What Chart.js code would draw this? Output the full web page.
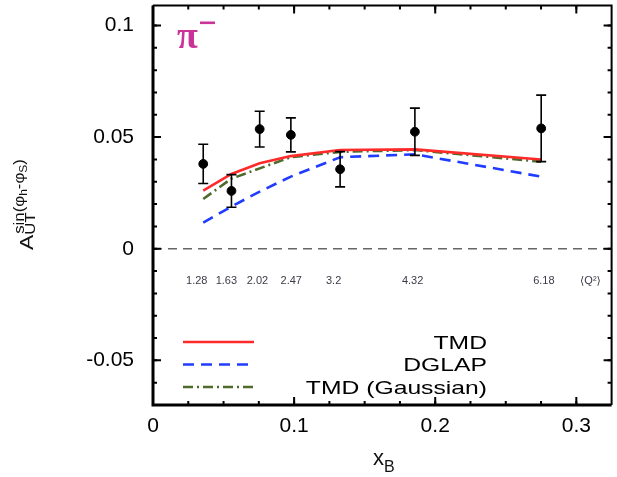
<!DOCTYPE html>
<html>
<head>
<meta charset="utf-8">
<script src="https://cdn.jsdelivr.net/npm/chart.js@4.4.1/dist/chart.umd.min.js"></script>
<style>
  html, body { margin: 0; padding: 0; background: #fff; }
</style>
</head>
<body>
<canvas id="asym-chart" width="617" height="477"></canvas>
<script>
//
// Sivers asymmetry, pi- : data
//
const xB      = [0.0356, 0.0556, 0.0756, 0.0977, 0.1326, 0.1856, 0.2751];
const asym    = [0.0380, 0.0259, 0.0536, 0.0510, 0.0356, 0.0524, 0.0539];
const asymErr = [0.0088, 0.0073, 0.0080, 0.0076, 0.0079, 0.0106, 0.0149];

const tmd      = [0.0260, 0.0335, 0.0383, 0.0415, 0.0442, 0.0445, 0.0400];
const dglap    = [0.0117, 0.0189, 0.0256, 0.0323, 0.0410, 0.0423, 0.0323];
const tmdGauss = [0.0223, 0.0314, 0.0360, 0.0410, 0.0434, 0.0442, 0.0390];

const zeroLineX = [0, 0.325];

const q2Labels = ['1.28', '1.63', '2.02', '2.47', '3.2', '4.32', '6.18', '\u27E8Q\u00B2\u27E9'];
const q2LabelX = [0.031, 0.052, 0.074, 0.098, 0.128, 0.184, 0.277, 0.310];
const q2LabelY = -0.0146;

const xTicks = [0, 0.1, 0.2, 0.3];
const yTicks = [-0.05, 0, 0.05, 0.1];
const xMinor = [];
for (let v = 0.025; v < 0.325; v += 0.025) xMinor.push(v);
const yMinor = [];
for (let v = -0.06; v < 0.105; v += 0.01) yMinor.push(v);

const legendNames = ['TMD', 'DGLAP', 'TMD (Gaussian)'];

const toXY = (ys) => ys.map((v, i) => ({ x: xB[i], y: v }));

const FONT = '"Liberation Sans", Arial, Helvetica, sans-serif';

function stretchText(ctx, text, x, y, sx, align) {
  ctx.save();
  ctx.translate(x, y);
  ctx.scale(sx, 1);
  ctx.textAlign = align;
  ctx.fillText(text, 0, 0);
  ctx.restore();
}

// error bars, Q^2 labels, frame with inward ticks, legend, axis titles
const decorations = {
  id: 'decorations',
  afterDatasetsDraw(chart) {
    const { ctx, scales: { x, y } } = chart;
    ctx.save();
    ctx.strokeStyle = '#000';
    ctx.lineWidth = 1.6;
    xB.forEach((v, i) => {
      const px = x.getPixelForValue(v);
      const top = y.getPixelForValue(asym[i] + asymErr[i]);
      const bot = y.getPixelForValue(asym[i] - asymErr[i]);
      ctx.beginPath();
      ctx.moveTo(px, top); ctx.lineTo(px, bot);
      ctx.moveTo(px - 5, top); ctx.lineTo(px + 5, top);
      ctx.moveTo(px - 5, bot); ctx.lineTo(px + 5, bot);
      ctx.stroke();
    });

    ctx.fillStyle = '#3a3a48';
    ctx.font = '11px ' + FONT + ', "DejaVu Sans"';
    ctx.textAlign = 'center';
    ctx.textBaseline = 'middle';
    q2Labels.forEach((t, i) => {
      ctx.fillText(t, x.getPixelForValue(q2LabelX[i]), y.getPixelForValue(q2LabelY));
    });
    ctx.restore();
  },
  afterDraw(chart) {
    const { ctx, chartArea: a, scales: { x, y } } = chart;
    ctx.save();
    ctx.strokeStyle = '#000';
    ctx.lineCap = 'butt';

    // ticks pointing inward
    const tick = (vals, len, lw) => {
      ctx.lineWidth = lw;
      ctx.beginPath();
      vals.forEach(v => {
        const px = x.getPixelForValue(v);
        ctx.moveTo(px, a.bottom); ctx.lineTo(px, a.bottom - len);
        ctx.moveTo(px, a.top); ctx.lineTo(px, a.top + len);
      });
      ctx.stroke();
    };
    const ytick = (vals, len, lw) => {
      ctx.lineWidth = lw;
      ctx.beginPath();
      vals.forEach(v => {
        const py = y.getPixelForValue(v);
        ctx.moveTo(a.left, py); ctx.lineTo(a.left + len, py);
        ctx.moveTo(a.right, py); ctx.lineTo(a.right - len, py);
      });
      ctx.stroke();
    };
    tick(xTicks, 8, 2);
    tick(xMinor, 4, 2);
    ytick(yTicks, 8, 2);
    ytick(yMinor, 4, 2);

    // frame
    ctx.lineWidth = 3;
    ctx.beginPath();
    ctx.moveTo(a.left, a.top); ctx.lineTo(a.left, a.bottom); ctx.lineTo(a.right, a.bottom);
    ctx.stroke();
    ctx.lineWidth = 2;
    ctx.beginPath();
    ctx.moveTo(a.left, a.top); ctx.lineTo(a.right, a.top); ctx.lineTo(a.right, a.bottom);
    ctx.stroke();

    // legend
    const ds = chart.data.datasets;
    const rows = [1, 2, 3];
    ctx.font = '19px ' + FONT;
    ctx.fillStyle = '#000';
    ctx.textBaseline = 'alphabetic';
    rows.forEach((di, r) => {
      const ly = 342 + r * 22.5;
      ctx.save();
      ctx.strokeStyle = ds[di].borderColor;
      ctx.lineWidth = ds[di].borderWidth;
      ctx.setLineDash(ds[di].borderDash || []);
      ctx.beginPath();
      ctx.moveTo(183, ly); ctx.lineTo(254, ly);
      ctx.stroke();
      ctx.restore();
      stretchText(ctx, legendNames[r], 487, ly + 6.5, 1.3, 'right');
    });

    // pi minus label
    ctx.fillStyle = '#cc3399';
    ctx.font = 'bold 38px "Liberation Serif", "DejaVu Serif", serif';
    ctx.textAlign = 'left';
    ctx.fillText('\u03C0', 177, 48);
    ctx.fillRect(200, 21.5, 15, 2.6);

    // x axis title
    ctx.fillStyle = '#111';
    ctx.font = '22px ' + FONT;
    ctx.fillText('x', 373, 465);
    ctx.font = '16px ' + FONT;
    ctx.fillText('B', 384, 472);

    // y axis title, rotated
    ctx.translate(33, 250);
    ctx.rotate(-Math.PI / 2);
    const sx = 1.2;
    let cx = 0;
    const put = (t, size, dy) => {
      ctx.font = size + 'px ' + FONT + ', "DejaVu Sans"';
      stretchText(ctx, t, cx, dy, sx, 'left');
      cx += ctx.measureText(t).width * sx;
    };
    put('A', 19, 0);
    const base = cx;
    put('UT', 14, 2);
    cx = base + 1;
    put('sin(\u03C6', 14, -9);
    put('h', 10, -6);
    put('-\u03C6', 14, -9);
    put('S', 10, -6);
    put(')', 14, -9);
    ctx.restore();
  }
};

const data = {
  datasets: [
    {
      label: 'data',
      data: toXY(asym),
      showLine: false,
      pointRadius: 4.4,
      pointBackgroundColor: '#000',
      pointBorderColor: '#000',
      order: 0
    },
    {
      label: 'TMD',
      data: toXY(tmd),
      showLine: true,
      borderColor: '#ff2a2a',
      borderWidth: 2.6,
      pointRadius: 0,
      tension: 0,
      order: 1
    },
    {
      label: 'DGLAP',
      data: toXY(dglap),
      showLine: true,
      borderColor: '#1f3cff',
      borderWidth: 2.6,
      borderDash: [11, 7],
      pointRadius: 0,
      tension: 0,
      order: 1
    },
    {
      label: 'TMD (Gaussian)',
      data: toXY(tmdGauss),
      showLine: true,
      borderColor: '#4f6b2c',
      borderWidth: 2.6,
      borderDash: [10, 4, 2, 4],
      pointRadius: 0,
      tension: 0,
      order: 1
    },
    {
      label: 'zero',
      data: zeroLineX.map(v => ({ x: v, y: 0 })),
      showLine: true,
      borderColor: '#666',
      borderWidth: 1.4,
      borderDash: [9, 6],
      pointRadius: 0,
      order: 2
    }
  ]
};

const config = {
  type: 'scatter',
  data: data,
  plugins: [decorations],
  options: {
    responsive: false,
    animation: false,
    layout: { padding: { top: 5, right: 3, left: 0, bottom: 0 } },
    plugins: {
      legend: { display: false },
      tooltip: { enabled: false }
    },
    scales: {
      x: {
        type: 'linear',
        min: 0,
        max: 0.325,
        grid: { display: false, drawTicks: false },
        border: { display: false },
        afterBuildTicks: (s) => { s.ticks = xTicks.map(v => ({ value: v })); },
        afterFit: (s) => { s.height = 72; s.paddingLeft = 0; s.paddingRight = 0; },
        ticks: {
          padding: 9,
          color: '#000',
          font: { family: FONT, size: 21 },
          callback: (v) => String(+v.toFixed(3))
        }
      },
      y: {
        type: 'linear',
        min: -0.07,
        max: 0.109,
        grid: { display: false, drawTicks: false },
        border: { display: false },
        afterBuildTicks: (s) => { s.ticks = yTicks.map(v => ({ value: v })); },
        afterFit: (s) => { s.width = 153; s.paddingTop = 0; s.paddingBottom = 0; },
        ticks: {
          padding: 19,
          color: '#000',
          font: { family: FONT, size: 21 },
          callback: (v) => String(+v.toFixed(3))
        }
      }
    }
  }
};

const myChart = new Chart(document.getElementById('asym-chart'), config);
</script>
</body>
</html>
